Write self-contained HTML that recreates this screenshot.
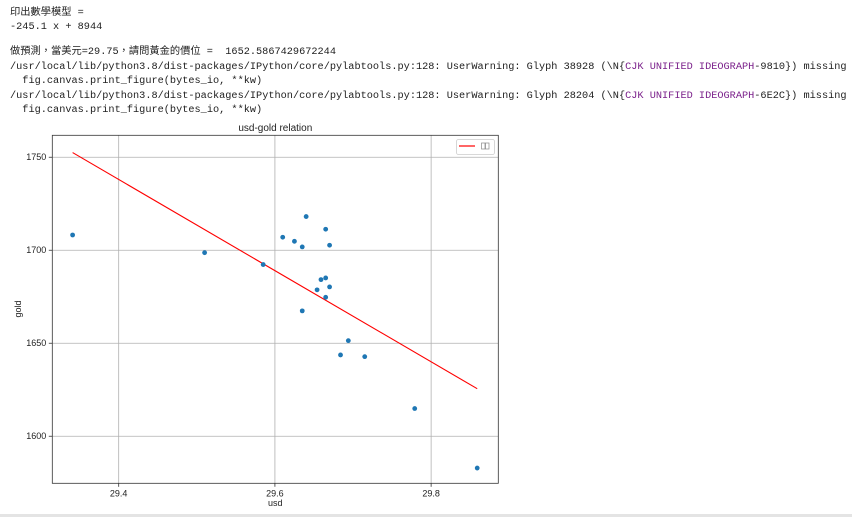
<!DOCTYPE html>
<html><head><meta charset="utf-8"><style>
body{margin:0;width:852px;height:517px;background:#fff;overflow:hidden;position:relative}
.ln{position:absolute;left:10px;font-family:"Liberation Mono","Noto Sans CJK TC",monospace;font-size:10.25px;line-height:14px;height:14px;color:#212121;white-space:pre}
.p{color:#7a1f8a}
svg{position:absolute;left:0;top:0}
svg text{font-family:"Liberation Sans",sans-serif;fill:#222}
</style></head><body>
<div>
<div class="ln" style="top:6px">印出數學模型 =</div>
<div class="ln" style="top:20px">-245.1 x + 8944</div>
<div class="ln" style="top:45px">做預測，當美元=29.75，請問黃金的價位 =  1652.5867429672244</div>
<div class="ln" style="top:60px">/usr/local/lib/python3.8/dist-packages/IPython/core/pylabtools.py:128: UserWarning: Glyph 38928 (\N{<span class="p">CJK UNIFIED IDEOGRAPH</span>-9810}) missing</div>
<div class="ln" style="top:74px">  fig.canvas.print_figure(bytes_io, **kw)</div>
<div class="ln" style="top:89px">/usr/local/lib/python3.8/dist-packages/IPython/core/pylabtools.py:128: UserWarning: Glyph 28204 (\N{<span class="p">CJK UNIFIED IDEOGRAPH</span>-6E2C}) missing</div>
<div class="ln" style="top:103px">  fig.canvas.print_figure(bytes_io, **kw)</div>
</div>
<svg id="chart" width="852" height="517"></svg>
<script>
const xs=[29.341,29.510,29.585,29.610,29.625,29.635,29.640,29.665,29.670,29.659,29.665,29.670,29.654,29.665,29.635,29.694,29.684,29.715,29.779,29.859];
const ys=[1708.2,1698.7,1692.3,1707.0,1704.8,1701.8,1718.1,1711.3,1702.7,1684.2,1685.1,1680.3,1678.7,1674.7,1667.4,1651.4,1643.7,1642.8,1614.9,1582.9];
const slope=-245.1, intercept=8944;
const xTicks=[29.4,29.6,29.8];
const yTicks=[1600,1650,1700,1750];
const L=52.3,R=498.3,T=135.3,B=483.3;
const X0=29.315,X1=29.886,Y0=1574.7,Y1=1761.8;
const sx=v=>L+(v-X0)/(X1-X0)*(R-L);
const sy=v=>B-(v-Y0)/(Y1-Y0)*(B-T);
const svg=document.getElementById('chart');
const NS='http://www.w3.org/2000/svg';
function mk(t,a,txt){const e=document.createElementNS(NS,t);for(const k in a)e.setAttribute(k,a[k]);if(txt!=null)e.textContent=txt;svg.appendChild(e);return e;}
let e;
e=mk('rect',{x:L,y:T,width:R-L,height:B-T,fill:'#fff'});


xTicks.forEach(v=>{
 e=mk('line',{x1:sx(v),x2:sx(v),y1:T,y2:B,stroke:'#b0b0b0','stroke-width':0.8});
 
 
 mk('line',{x1:sx(v),x2:sx(v),y1:B,y2:B+3.5,stroke:'#333','stroke-width':0.8});
 e=mk('text',{x:sx(v),y:B+13,'font-size':9,'text-anchor':'middle'},v.toFixed(1));
 
 
});
yTicks.forEach(v=>{
 e=mk('line',{x1:L,x2:R,y1:sy(v),y2:sy(v),stroke:'#b0b0b0','stroke-width':0.8});
 
 
 mk('line',{x1:L-3.5,x2:L,y1:sy(v),y2:sy(v),stroke:'#333','stroke-width':0.8});
 e=mk('text',{x:L-6,y:sy(v)+3,'font-size':9,'text-anchor':'end'},String(v));
 
 
});
const xmin=Math.min(...xs),xmax=Math.max(...xs);
e=mk('line',{x1:sx(xmin),y1:sy(slope*xmin+intercept),x2:sx(xmax),y2:sy(slope*xmax+intercept),stroke:'#ff0000','stroke-width':1.1});


xs.forEach((v,i)=>{
 e=mk('circle',{cx:sx(v),cy:sy(ys[i]),r:2.4,fill:'#1f77b4'});
 
 
});
e=mk('rect',{x:L,y:T,width:R-L,height:B-T,fill:'none',stroke:'#333','stroke-width':0.8});


e=mk('text',{x:(L+R)/2,y:131,'font-size':10,'text-anchor':'middle'},'usd-gold relation');


e=mk('text',{x:(L+R)/2,y:506,'font-size':9,'text-anchor':'middle'},'usd');


e=mk('text',{x:0,y:0,'font-size':9,'text-anchor':'middle',transform:'translate(21,309) rotate(-90)'},'gold');


e=mk('rect',{x:456.5,y:139.5,width:38,height:15,rx:2,fill:'#fff',stroke:'#ccc','stroke-width':0.8});


e=mk('line',{x1:459,x2:475,y1:146,y2:146,stroke:'#ff0000','stroke-width':1.2});


e=mk('rect',{x:481.5,y:143,width:3.5,height:6,fill:'none',stroke:'#888','stroke-width':0.7});


mk('rect',{x:485.5,y:143,width:3.5,height:6,fill:'none',stroke:'#888','stroke-width':0.7});
e=mk('rect',{x:0,y:514,width:852,height:3,fill:'#e4e4e4'});


</script>
</body></html>
